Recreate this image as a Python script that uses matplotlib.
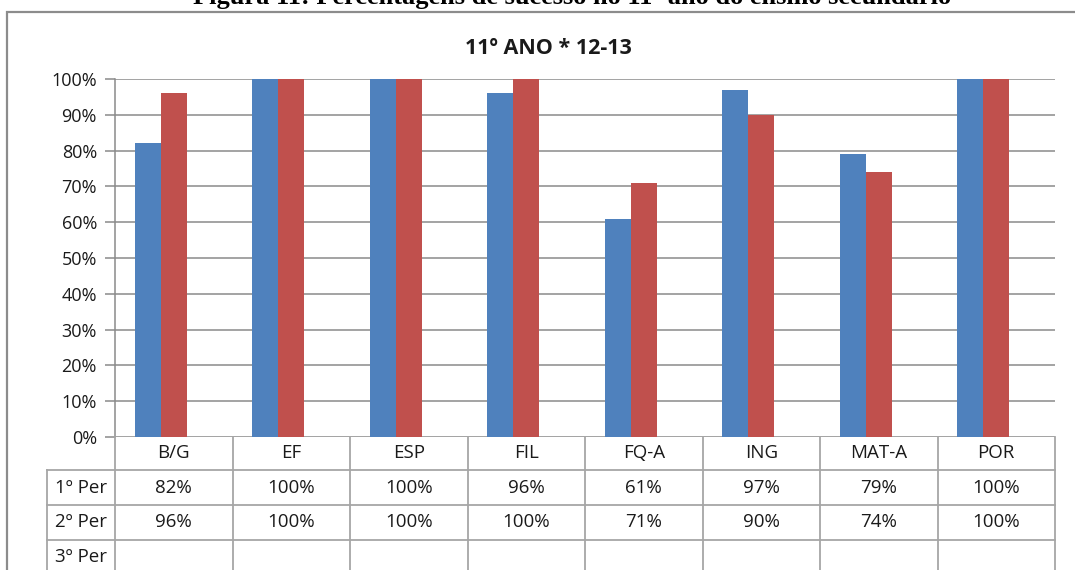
import numpy as np
import matplotlib
matplotlib.use("Agg")
import matplotlib.pyplot as plt
import matplotlib.transforms as mtransforms
from matplotlib.lines import Line2D
from matplotlib.patches import Rectangle

# disciplinas e percentagens de sucesso por período
disciplinas = ["B/G", "EF", "ESP", "FIL", "FQ-A", "ING", "MAT-A", "POR"]
periodos = ["1º Per", "2º Per", "3º Per"]
per1 = [82, 100, 100, 96, 61, 97, 79, 100]
per2 = [96, 100, 100, 100, 71, 90, 74, 100]
per3 = [None] * 8  # 3º período ainda sem dados
yticks = [0, 10, 20, 30, 40, 50, 60, 70, 80, 90, 100]

series = [per1, per2, per3]
cores = ["#4F81BD", "#C0504D", "#9BBB59"]

W, H = 1075, 570
plt.rcParams["font.family"] = ["Open Sans", "DejaVu Sans"]
fig = plt.figure(figsize=(W / 100, H / 100), dpi=100)

def fx(x):
    return x / W

def fy(y):
    return 1 - y / H

# moldura do gráfico
fig.add_artist(Rectangle((fx(7), fy(600)), fx(1100), fy(12) - fy(600),
                         transform=fig.transFigure, fill=False,
                         edgecolor="#8c8c8c", linewidth=1.6))

# legenda da figura (parcialmente cortada no topo)
fig.text(fx(572), fy(4), "Figura 11: Percentagens de sucesso no 11º ano do ensino secundário",
         ha="center", va="baseline", fontsize=19, fontweight="bold",
         family="Liberation Serif")

fig.text(fx(548), fy(48), "11º ANO * 12-13", ha="center", va="center",
         fontsize=15.5, fontweight="bold", color="#1a1a1a")

ax = fig.add_axes([fx(115), fy(437), fx(1055) - fx(115), fy(79) - fy(437)])
x = np.arange(len(disciplinas))
w = 0.222
for k, (vals, c) in enumerate(zip(series, cores)):
    v = np.array([np.nan if a is None else a for a in vals], dtype=float)
    ax.bar(x + (k - 1) * w, v, width=w, color=c, zorder=3)

ax.set_xlim(-0.5, len(disciplinas) - 0.5)
ax.set_ylim(0, 100)
ax.set_yticks(yticks)
ax.set_yticklabels([f"{t}%" for t in yticks], fontsize=13, color="#1a1a1a")
ax.yaxis.grid(True, color="#8a8a8a", linewidth=1.1, zorder=0)
ax.set_xticks([])
ax.tick_params(axis="y", length=7, width=1.1, color="#8a8a8a", pad=6)
for side in ["top", "right", "bottom"]:
    ax.spines[side].set_visible(False)
ax.spines["left"].set_color("#8a8a8a")
ax.spines["left"].set_linewidth(1.1)

# tabela de dados por baixo do eixo
tr = mtransforms.blended_transform_factory(ax.transData, fig.transFigure)
lc = "#a6a6a6"
lw = 1.3
row_top = [437, 470, 505, 540]
row_mid = [453, 488, 522, 557]
for i in range(len(disciplinas) + 1):
    fig.add_artist(Line2D([i - 0.5, i - 0.5], [fy(437), fy(600)], transform=tr,
                          color=lc, linewidth=lw))
for yy in row_top[1:]:
    fig.add_artist(Line2D([fx(47), fx(1055)], [fy(yy), fy(yy)],
                          transform=fig.transFigure, color=lc, linewidth=lw))
fig.add_artist(Line2D([fx(47), fx(47)], [fy(470), fy(600)],
                      transform=fig.transFigure, color=lc, linewidth=lw))

fs = 13.5
for i, d in enumerate(disciplinas):
    fig.text(i, fy(row_mid[0]), d, transform=tr, ha="center", va="center",
             fontsize=fs, color="#1a1a1a")
for r, (nome, vals) in enumerate(zip(periodos, series)):
    fig.text(fx(81), fy(row_mid[r + 1]), nome, ha="center", va="center",
             fontsize=fs, color="#1a1a1a")
    for i, v in enumerate(vals):
        if v is not None:
            fig.text(i, fy(row_mid[r + 1]), f"{v}%", transform=tr, ha="center",
                     va="center", fontsize=fs, color="#1a1a1a")

fig.savefig("out.png", dpi=100, facecolor="white")
